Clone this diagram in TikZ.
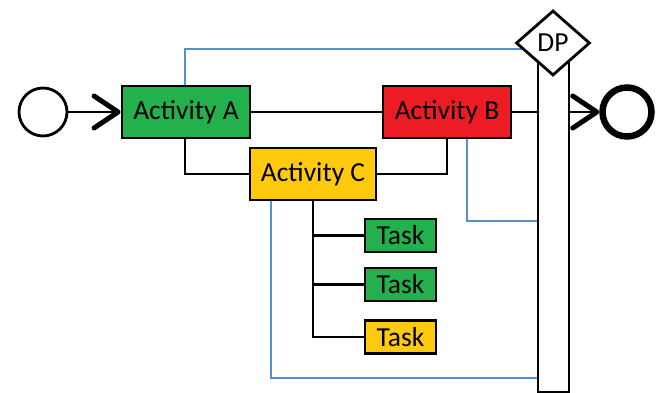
\documentclass[tikz,border=0pt]{standalone}
\usepackage{fontspec}
\setmainfont{Carlito}
\usetikzlibrary{shapes.geometric,arrows.meta,calc}
\pgfdeclarelayer{bg}
\pgfsetlayers{bg,main}
\definecolor{actgreen}{RGB}{34,177,76}
\definecolor{actred}{RGB}{237,28,36}
\definecolor{actyellow}{RGB}{255,201,14}
\definecolor{linkblue}{RGB}{85,142,213}
\begin{document}
\begin{tikzpicture}[x=1pt,y=-1pt,
  box/.style={draw=black, line width=2.8pt, inner sep=0pt, font=\fontsize{27.5}{30}\selectfont},
  actbox/.style={box, minimum width=128pt, minimum height=52pt},
  taskbox/.style={box, minimum width=71pt, minimum height=33pt},
  conn/.style={draw=black, line width=2.8pt},
  blueconn/.style={draw=linkblue, line width=2.3pt},
  chev/.style={-{Straight Barb[length=24pt,width=32pt,line width=5pt,round]}}]
\useasboundingbox (0,0) rectangle (658,393);
% bar
\node[draw=black, fill=white, line width=2.8pt, minimum width=31pt, minimum height=349pt, inner sep=0pt] (bar) at (553.5,217.5) {};
\node[box, diamond, fill=white, minimum width=74pt, minimum height=65pt] (dp) at (553,43) {DP};
% events
\node[draw=black, circle, line width=2.8pt, minimum size=48pt, inner sep=0pt] (start) at (43,112) {};
\node[draw=black, circle, line width=6.5pt, minimum size=49pt, inner sep=0pt] (end) at (627,112) {};
% activities
\node[actbox, fill=actgreen] (A) at (186,112) {Activity A};
\node[actbox, fill=actred] (B) at (447,112) {Activity B};
\node[actbox, fill=actyellow, minimum width=126pt] (C) at (313,174) {Activity C};
% tasks
\node[taskbox, fill=actgreen] (t1) at (400.5,235.5) {Task};
\node[taskbox, fill=actgreen] (t2) at (400.5,284.5) {Task};
\node[taskbox, fill=actyellow] (t3) at (400.5,337) {Task};
\begin{pgfonlayer}{bg}
  \draw[blueconn] ($(A.north)+(-1,0)$) |- ($(dp.center)+(0,6)$);
  \draw[blueconn] ($(B.south)+(20,0)$) |- (bar.center |- 0,221);
  \draw[blueconn] ($(C.south)+(-42,0)$) |- (bar.center |- 0,378);
\end{pgfonlayer}
\draw[conn, chev] (start) -- (A.west);
\draw[conn] (A.east) -- (B.west);
\draw[conn] ($(A.south)+(-1,0)$) |- (C.west);
\draw[conn] (B.south) |- (C.east);
\draw[conn] (B.east) -- (B.east -| bar.west);
\draw[conn, chev] (B.east -| bar.east) -- (end.west);
\draw[conn] (C.south) |- (t3.west);
\draw[conn] (C.south |- t1.west) -- (t1.west);
\draw[conn] (C.south |- t2.west) -- (t2.west);
\end{tikzpicture}
\end{document}
